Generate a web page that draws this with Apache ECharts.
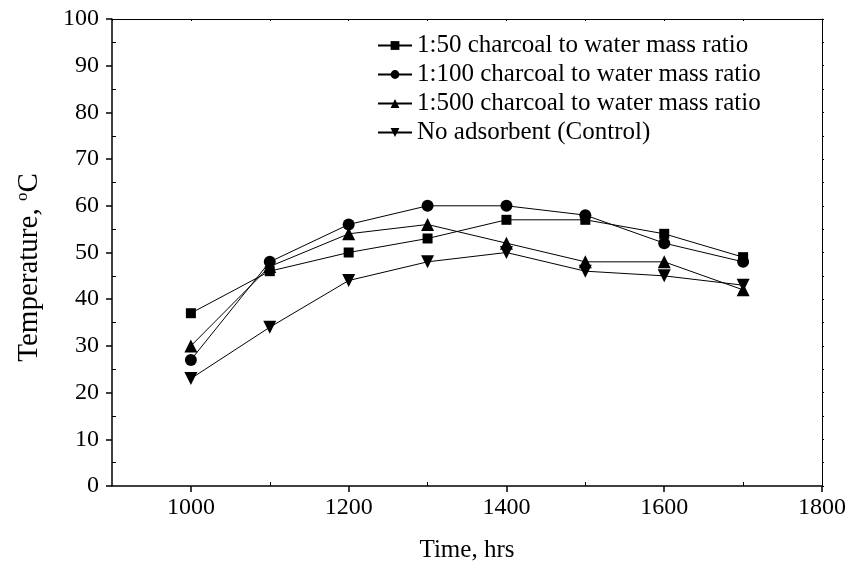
<!DOCTYPE html>
<html>
<head>
<meta charset="utf-8">
<script src="https://cdn.jsdelivr.net/npm/echarts@6/dist/echarts.min.js"></script>
<style>
  html, body { margin: 0; padding: 0; background: #fff; }
  #main { width: 851px; height: 566px; }
</style>
</head>
<body>
<div id="main"></div>
<script>
// time in hrs
const times = [1000, 1100, 1200, 1300, 1400, 1500, 1600, 1700];
const ratio50 = [37, 46, 50, 53, 57, 57, 54, 49];
const ratio100 = [27, 48, 56, 60, 60, 58, 52, 48];
const ratio500 = [30, 47, 54, 56, 52, 48, 48, 42];
const control = [23, 34, 44, 48, 50, 46, 45, 43];
const seriesNames = [
  '1:50 charcoal to water mass ratio',
  '1:100 charcoal to water mass ratio',
  '1:500 charcoal to water mass ratio',
  'No adsorbent (Control)'
];
// tick positions
const xMajor = [1000, 1200, 1400, 1600, 1800];
const xMinor = [1100, 1300, 1500, 1700];
const yMinor = [5, 15, 25, 35, 45, 55, 65, 75, 85, 95];

const font = 'Liberation Serif';
const chart = echarts.init(document.getElementById('main'));

function pairs(vals) {
  return times.map((t, i) => [t, vals[i]]);
}

const triDown = 'path://M0,0 L10,0 L5,9 Z';

function makeSeries(name, vals, symbol, size) {
  return {
    name: name,
    type: 'line',
    data: pairs(vals),
    symbol: symbol,
    symbolSize: size,
    showAllSymbol: true,
    itemStyle: { color: '#000' },
    lineStyle: { color: '#000', width: 1 },
    emphasis: { disabled: true },
    z: 3
  };
}

const blackLine = { color: '#000', width: 1.5 };
const thinLine = { color: '#000', width: 1 };

const option = {
  animation: false,
  backgroundColor: '#fff',
  grid: { left: 112, right: 29, top: 19, bottom: 80, outerBoundsMode: 'none' },
  legend: {
    left: 372,
    top: 28,
    orient: 'vertical',
    itemWidth: 34,
    itemHeight: 11,
    itemGap: 4,
    textStyle: { fontFamily: font, fontSize: 25, lineHeight: 25, color: '#000' },
    data: seriesNames
  },
  xAxis: [
    {
      type: 'value', min: 900, max: 1800, interval: 100, position: 'bottom',
      name: 'Time, hrs',
      nameLocation: 'middle',
      nameGap: 52,
      nameTextStyle: { fontFamily: font, fontSize: 25, color: '#000' },
      axisLine: { onZero: false, lineStyle: blackLine },
      axisTick: { show: true, inside: false, length: 6, customValues: xMajor, lineStyle: blackLine },
      axisLabel: {
        fontFamily: font, fontSize: 24, color: '#000', margin: 10,
        customValues: xMajor,
        formatter: v => (xMajor.indexOf(v) >= 0 ? v : '')
      },
      splitLine: { show: false }
    },
    {
      type: 'value', min: 900, max: 1800, interval: 100, position: 'bottom',
      axisLine: { show: false, onZero: false },
      axisTick: { show: true, inside: true, length: 4, customValues: xMinor, lineStyle: thinLine },
      axisLabel: { show: false },
      splitLine: { show: false }
    },
    {
      type: 'value', min: 900, max: 1800, interval: 100, position: 'top',
      axisLine: { show: true, onZero: false, lineStyle: thinLine },
      axisTick: { show: true, inside: true, length: 2, lineStyle: thinLine },
      axisLabel: { show: false },
      splitLine: { show: false }
    }
  ],
  yAxis: [
    {
      type: 'value', min: 0, max: 100, interval: 10, position: 'left',
      name: 'Temperature, {sup|o}C',
      nameLocation: 'middle',
      nameGap: 67,
      nameTextStyle: {
        fontFamily: font, fontSize: 29, color: '#000',
        padding: [0, 30, 0, 0],
        rich: {
          sup: { fontFamily: font, fontSize: 17, color: '#000', verticalAlign: 'bottom', padding: [0, 0, 14, 0] }
        }
      },
      axisLine: { onZero: false, lineStyle: blackLine },
      axisTick: { show: true, inside: false, length: 6, lineStyle: blackLine },
      axisLabel: { fontFamily: font, fontSize: 24, color: '#000', margin: 13 },
      splitLine: { show: false }
    },
    {
      type: 'value', min: 0, max: 100, interval: 5, position: 'left',
      axisLine: { show: false, onZero: false },
      axisTick: { show: true, inside: true, length: 4, customValues: yMinor, lineStyle: thinLine },
      axisLabel: { show: false },
      splitLine: { show: false }
    },
    {
      type: 'value', min: 0, max: 100, interval: 5, position: 'right',
      axisLine: { show: true, onZero: false, lineStyle: thinLine },
      axisTick: { show: true, inside: false, length: 2, lineStyle: thinLine },
      axisLabel: { show: false },
      splitLine: { show: false }
    }
  ],
  series: [
    makeSeries(seriesNames[0], ratio50, 'rect', 10),
    makeSeries(seriesNames[1], ratio100, 'circle', 12),
    makeSeries(seriesNames[2], ratio500, 'triangle', 13),
    makeSeries(seriesNames[3], control, triDown, 13)
  ]
};

option && chart.setOption(option);
</script>
</body>
</html>
